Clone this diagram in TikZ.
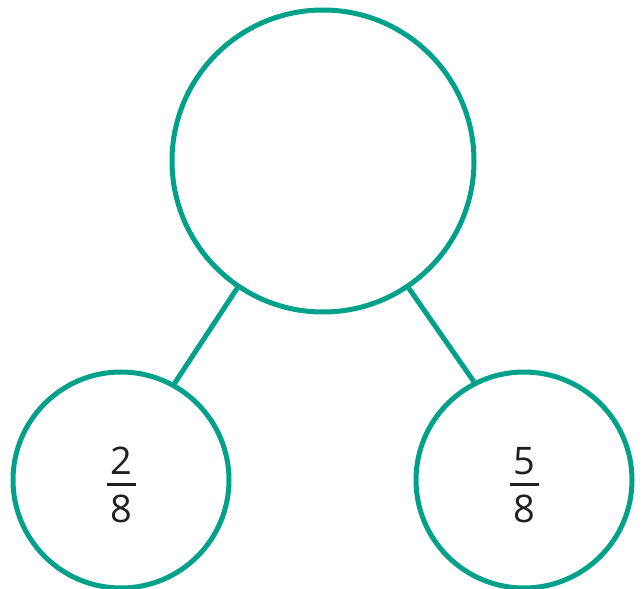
\documentclass[tikz,border=0pt]{standalone}
\usepackage{fontspec}
\setmainfont{Open Sans}
\definecolor{teal1}{RGB}{0,161,138}
\definecolor{ink}{RGB}{35,31,32}
\newcommand\fracbox[2]{\vbox{\hbox to 29pt{\hss#1\hss}\kern8.5pt\hrule height 3pt\kern8.5pt\hbox to 29pt{\hss#2\hss}}}
\tikzset{
  ring/.style={circle, draw=teal1, line width=5pt, inner sep=0pt},
  link/.style={draw=teal1, line width=5pt},
  fractxt/.style={inner sep=0pt, text=ink, font=\fontsize{38}{40}\selectfont}
}
\begin{document}
\begin{tikzpicture}[x=1pt,y=-1pt]
\useasboundingbox (0,0) rectangle (643,589);
\node[ring, minimum size=302pt] (top) at (323,161) {};
\node[ring, minimum size=216pt] (left) at (121,480) {};
\node[ring, minimum size=216pt] (right) at (524,480) {};
\draw[link] (top.236.5) -- (left.61);
\draw[link] (top.304.5) -- (right.117);
\node[fractxt] (fl) at (121,485) {\color{ink}\fracbox{2}{8}};
\node[fractxt] (fr) at (524,485) {\color{ink}\fracbox{5}{8}};
\end{tikzpicture}
\end{document}
